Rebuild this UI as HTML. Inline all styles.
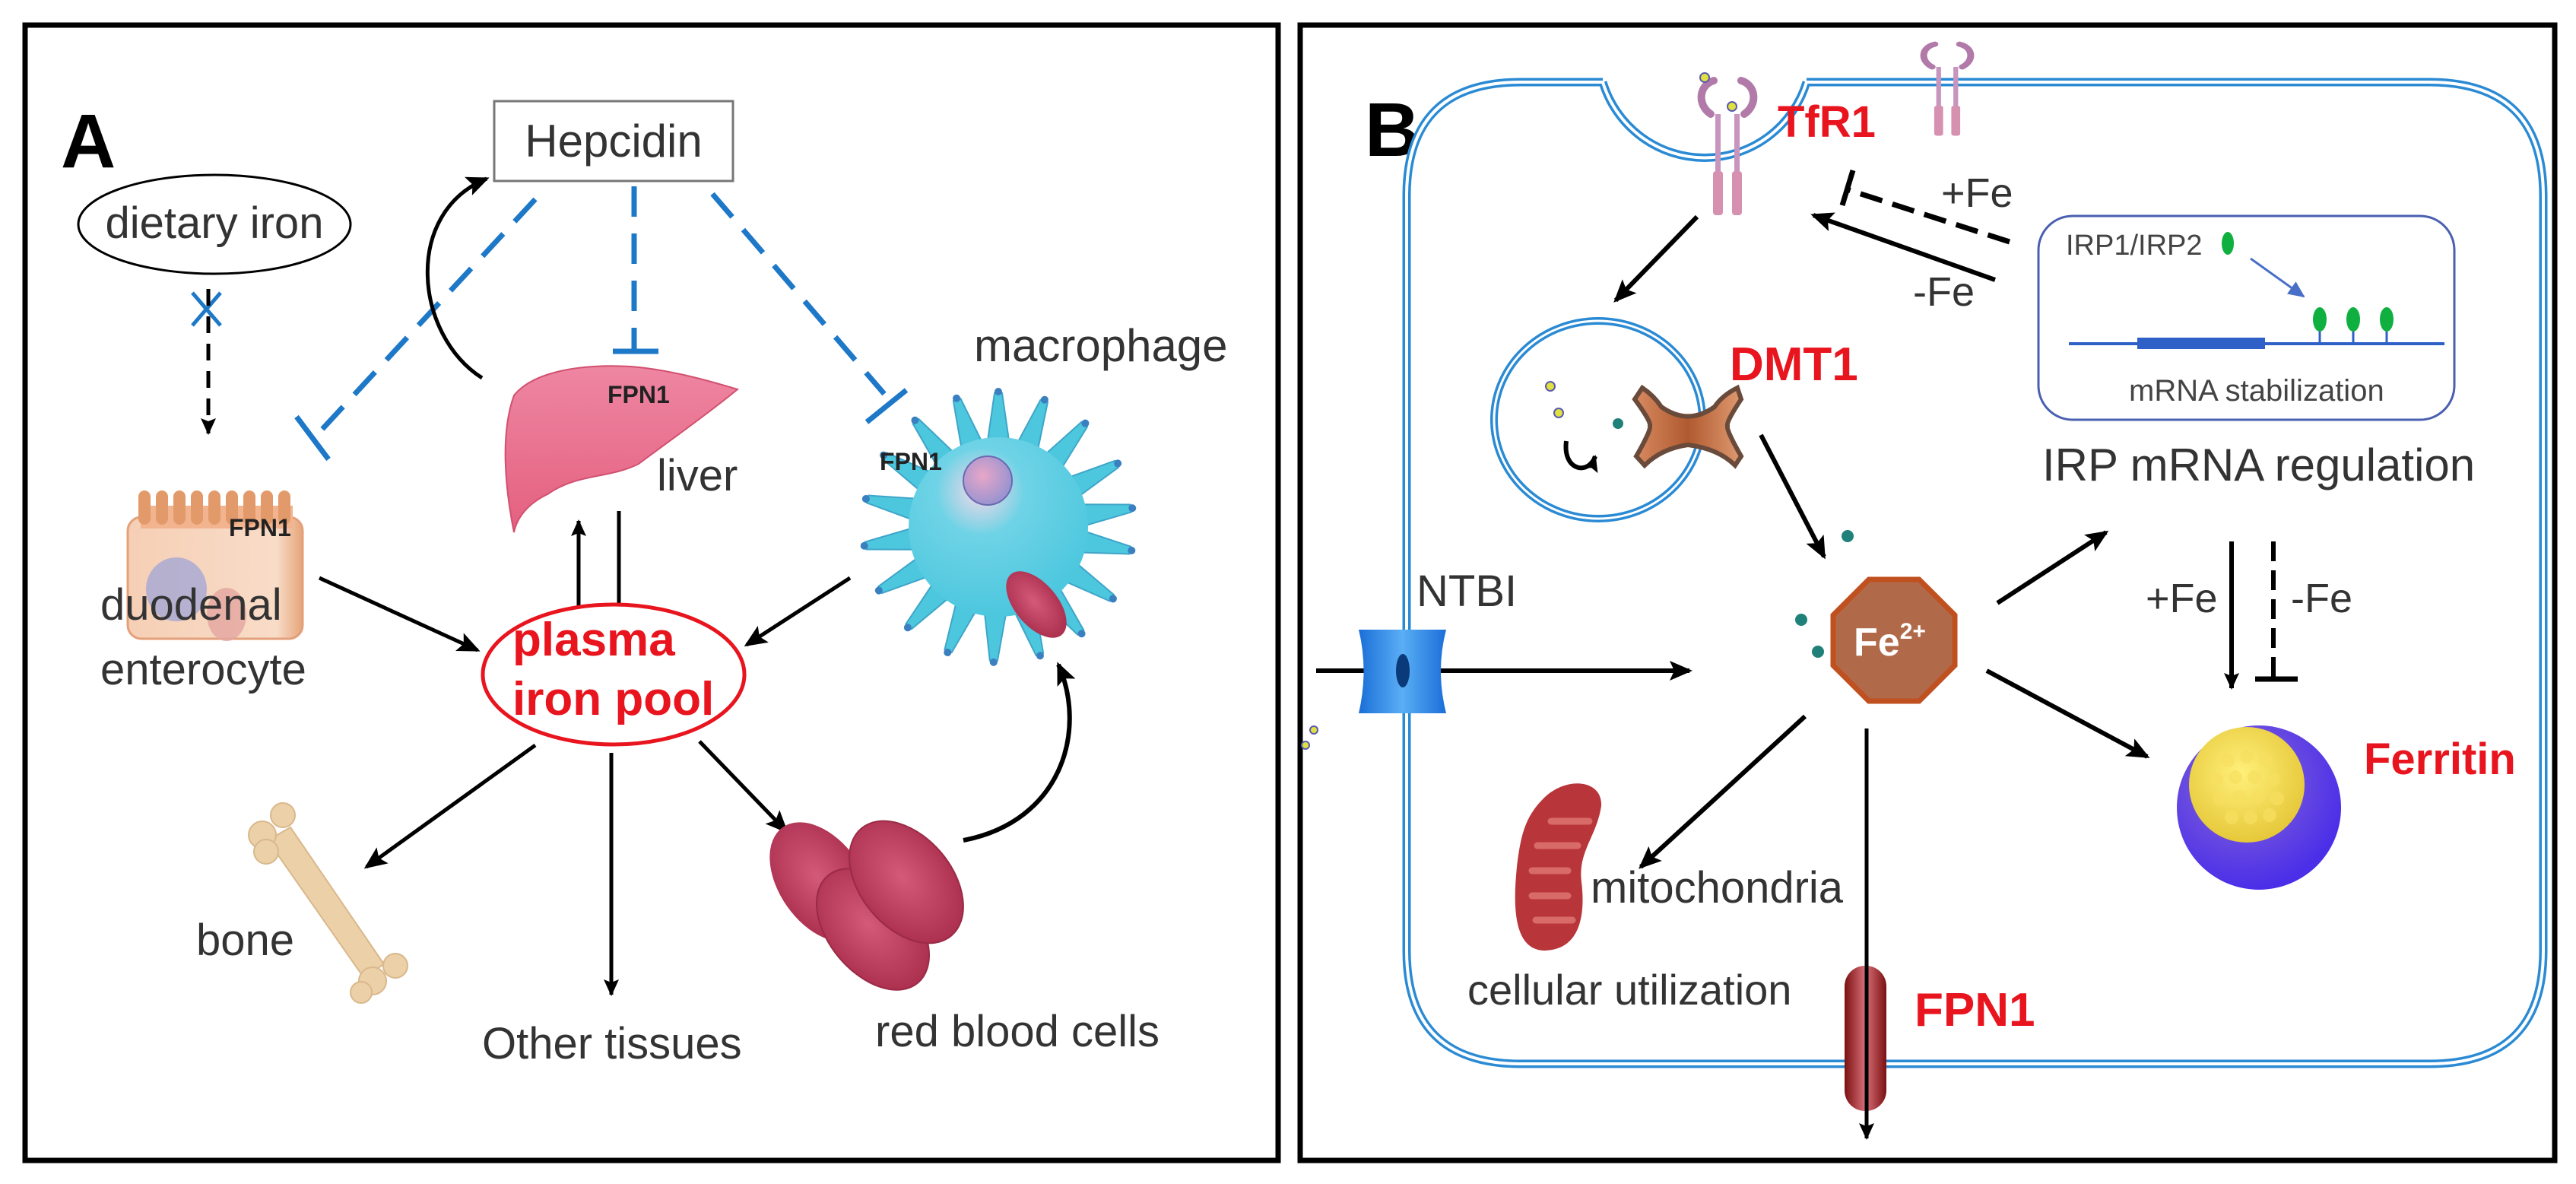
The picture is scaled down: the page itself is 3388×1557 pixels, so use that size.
<!DOCTYPE html>
<html><head><meta charset="utf-8"><style>
html,body{margin:0;padding:0;background:#fff;}
svg{display:block;}
text{font-family:"Liberation Sans",sans-serif;}
</style></head><body>
<svg width="3388" height="1557" viewBox="0 0 3388 1557" xmlns="http://www.w3.org/2000/svg">
<defs>
<marker id="ah" markerWidth="10" markerHeight="10" refX="8" refY="5" orient="auto" markerUnits="userSpaceOnUse" viewBox="0 0 10 10"><path d="M0,0 L10,5 L0,10 Z" fill="#000"/></marker>
<marker id="ahb" markerWidth="30" markerHeight="26" refX="26" refY="13" orient="auto" markerUnits="userSpaceOnUse"><path d="M0,0 L30,13 L0,26 L6,13 Z" fill="#000"/></marker>
<marker id="ahs" markerWidth="22" markerHeight="20" refX="20" refY="10" orient="auto" markerUnits="userSpaceOnUse"><path d="M0,0 L22,10 L0,20 L4,10 Z" fill="#000"/></marker>
<marker id="ahbl" markerWidth="22" markerHeight="20" refX="20" refY="10" orient="auto" markerUnits="userSpaceOnUse"><path d="M0,0 L22,10 L0,20 Z" fill="#4a6fc8"/></marker>
<radialGradient id="mac" cx="0.4" cy="0.3" r="0.7"><stop offset="0" stop-color="#f7d8e8"/><stop offset="0.35" stop-color="#6fd3e6"/><stop offset="1" stop-color="#4cc7de"/></radialGradient>
<radialGradient id="nuc" cx="0.4" cy="0.4" r="0.6"><stop offset="0" stop-color="#e8a6c8"/><stop offset="1" stop-color="#9a94d0"/></radialGradient>
<radialGradient id="rbc" cx="0.5" cy="0.45" r="0.6"><stop offset="0" stop-color="#d45a7a"/><stop offset="1" stop-color="#a92c4b"/></radialGradient>
<linearGradient id="ent" x1="0" y1="0" x2="1" y2="0"><stop offset="0" stop-color="#f6cfb5"/><stop offset="0.85" stop-color="#f8dcc8"/><stop offset="1" stop-color="#e6a57a"/></linearGradient>
<linearGradient id="liv" x1="0" y1="0" x2="0" y2="1"><stop offset="0" stop-color="#ee86a2"/><stop offset="1" stop-color="#e4607f"/></linearGradient>
<radialGradient id="fer" cx="0.4" cy="0.35" r="0.65"><stop offset="0" stop-color="#8a6ad8"/><stop offset="1" stop-color="#4a2ee8"/></radialGradient>
<radialGradient id="ferin" cx="0.45" cy="0.4" r="0.6"><stop offset="0" stop-color="#fff07a"/><stop offset="1" stop-color="#e6c83a"/></radialGradient>
<linearGradient id="fpn" x1="0" y1="0" x2="1" y2="0"><stop offset="0" stop-color="#7a1010"/><stop offset="0.5" stop-color="#d9707a"/><stop offset="1" stop-color="#7a1010"/></linearGradient>
<linearGradient id="ntbi" x1="0" y1="0" x2="1" y2="0"><stop offset="0" stop-color="#1a6fd8"/><stop offset="0.5" stop-color="#5aaef5"/><stop offset="1" stop-color="#1a6fd8"/></linearGradient>
<linearGradient id="dmt" x1="0" y1="0" x2="1" y2="0"><stop offset="0" stop-color="#d88a60"/><stop offset="0.5" stop-color="#b05a30"/><stop offset="1" stop-color="#e09a70"/></linearGradient>
<g id="spike"><path d="M-16,-100 L-5,-176 L5,-176 L16,-100 Z" fill="#4cc7de" stroke="#3fa5c8" stroke-width="2"/><circle cx="0" cy="-178" r="5" fill="#3a7fc0"/></g>
<g id="rec"><path d="M-22,0 C-40,-12 -38,-38 -18,-44" fill="none" stroke="#b27aa8" stroke-width="10" stroke-linecap="round"/><path d="M22,0 C40,-12 38,-38 18,-44" fill="none" stroke="#b27aa8" stroke-width="10" stroke-linecap="round"/><rect x="-16" y="0" width="7" height="75" fill="#c795bd"/><rect x="9" y="0" width="7" height="75" fill="#c795bd"/><rect x="-19" y="75" width="13" height="58" rx="4" fill="#d690b0"/><rect x="6" y="75" width="13" height="58" rx="4" fill="#d690b0"/></g>
</defs>

<!-- Panel borders -->
<rect x="33" y="33" width="1648" height="1493" fill="none" stroke="#000" stroke-width="7"/>
<rect x="1710" y="33" width="1650" height="1493" fill="none" stroke="#000" stroke-width="7"/>

<!-- ============ PANEL A ============ -->
<text x="80" y="220" font-size="100" font-weight="bold">A</text>

<rect x="650" y="133" width="314" height="105" fill="#fff" stroke="#777" stroke-width="3"/>
<text x="807" y="206" font-size="60" text-anchor="middle" fill="#333">Hepcidin</text>

<ellipse cx="282" cy="295" rx="179" ry="65" fill="#fff" stroke="#000" stroke-width="3"/>
<text x="282" y="313" font-size="58" text-anchor="middle" fill="#333">dietary iron</text>

<!-- blue X and dashed arrow -->
<line x1="253" y1="385" x2="290" y2="428" stroke="#1e78c8" stroke-width="5"/>
<line x1="290" y1="385" x2="253" y2="428" stroke="#1e78c8" stroke-width="5"/>
<line x1="274" y1="380" x2="274" y2="570" stroke="#000" stroke-width="5" stroke-dasharray="22,14" marker-end="url(#ahs)"/>

<!-- Hepcidin inhibition lines -->
<g stroke="#1e78c8" stroke-width="7" fill="none">
<line x1="704" y1="262" x2="414" y2="575" stroke-dasharray="40,22"/>
<line x1="390" y1="548" x2="432" y2="604"/>
<line x1="834" y1="245" x2="834" y2="462" stroke-dasharray="40,22"/>
<line x1="806" y1="462" x2="866" y2="462"/>
<line x1="937" y1="255" x2="1163" y2="518" stroke-dasharray="40,22"/>
<line x1="1140" y1="555" x2="1192" y2="513"/>
</g>

<!-- curved arrow liver -> hepcidin -->
<path d="M634,497 C545,440 530,280 640,235" fill="none" stroke="#000" stroke-width="5" marker-end="url(#ahb)"/>

<!-- enterocyte -->
<g>
<rect x="168" y="680" width="230" height="160" rx="18" fill="url(#ent)" stroke="#e3a07a" stroke-width="3"/>
<rect x="185" y="665" width="200" height="30" fill="#f1b48e"/>
<g fill="#e39a6a">
<rect x="182" y="645" width="16" height="45" rx="8"/><rect x="205" y="645" width="16" height="45" rx="8"/><rect x="228" y="645" width="16" height="45" rx="8"/><rect x="251" y="645" width="16" height="45" rx="8"/><rect x="274" y="645" width="16" height="45" rx="8"/><rect x="297" y="645" width="16" height="45" rx="8"/><rect x="320" y="645" width="16" height="45" rx="8"/><rect x="343" y="645" width="16" height="45" rx="8"/><rect x="366" y="645" width="16" height="45" rx="8"/>
</g>
<ellipse cx="232" cy="775" rx="40" ry="42" fill="#a5a8d4" opacity="0.8"/>
<ellipse cx="298" cy="808" rx="26" ry="35" fill="#e3a5a0" opacity="0.8"/>
</g>
<text x="301" y="705" font-size="32" font-weight="bold" fill="#222">FPN1</text>
<text x="132" y="815" font-size="58" fill="#333">duodenal</text>
<text x="132" y="900" font-size="58" fill="#333">enterocyte</text>

<!-- liver -->
<path d="M676,520 C700,490 760,478 830,482 C880,486 930,500 970,512 C930,545 880,580 840,610 C800,630 760,622 720,650 C695,662 680,680 676,700 C664,640 658,570 676,520 Z" fill="url(#liv)" stroke="#d2506f" stroke-width="2"/>
<text x="799" y="530" font-size="32" font-weight="bold" fill="#222">FPN1</text>
<text x="864" y="645" font-size="58" fill="#333">liver</text>

<!-- liver <-> pool -->
<line x1="761" y1="835" x2="761" y2="685" stroke="#000" stroke-width="5" marker-end="url(#ahs)"/>
<line x1="814" y1="672" x2="814" y2="832" stroke="#000" stroke-width="5" marker-end="url(#ahs)"/>

<!-- macrophage -->
<g>
<use href="#spike" transform="translate(1313,693) rotate(0)"/>
<use href="#spike" transform="translate(1313,693) rotate(20)"/>
<use href="#spike" transform="translate(1313,693) rotate(40)"/>
<use href="#spike" transform="translate(1313,693) rotate(62)"/>
<use href="#spike" transform="translate(1313,693) rotate(82)"/>
<use href="#spike" transform="translate(1313,693) rotate(100)"/>
<use href="#spike" transform="translate(1313,693) rotate(122)"/>
<use href="#spike" transform="translate(1313,693) rotate(142)"/>
<use href="#spike" transform="translate(1313,693) rotate(162)"/>
<use href="#spike" transform="translate(1313,693) rotate(182)"/>
<use href="#spike" transform="translate(1313,693) rotate(202)"/>
<use href="#spike" transform="translate(1313,693) rotate(222)"/>
<use href="#spike" transform="translate(1313,693) rotate(242)"/>
<use href="#spike" transform="translate(1313,693) rotate(262)"/>
<use href="#spike" transform="translate(1313,693) rotate(282)"/>
<use href="#spike" transform="translate(1313,693) rotate(302)"/>
<use href="#spike" transform="translate(1313,693) rotate(322)"/>
<use href="#spike" transform="translate(1313,693) rotate(342)"/>
<circle cx="1313" cy="693" r="118" fill="url(#mac)"/>
<circle cx="1299" cy="632" r="32" fill="url(#nuc)" stroke="#6a6ab0" stroke-width="2"/>
<ellipse cx="1363" cy="795" rx="28" ry="52" transform="rotate(-40 1363 795)" fill="url(#rbc)"/>
</g>
<text x="1157" y="618" font-size="32" font-weight="bold" fill="#222">FPN1</text>
<text x="1281" y="475" font-size="60" fill="#333">macrophage</text>

<!-- plasma iron pool -->
<ellipse cx="807" cy="887" rx="172" ry="92" fill="#fff" stroke="#e8141e" stroke-width="5"/>
<text x="674" y="862" font-size="62" font-weight="bold" fill="#e8141e">plasma</text>
<text x="674" y="940" font-size="62" font-weight="bold" fill="#e8141e">iron pool</text>

<line x1="420" y1="760" x2="628" y2="855" stroke="#000" stroke-width="5" marker-end="url(#ahb)"/>
<line x1="1118" y1="760" x2="982" y2="848" stroke="#000" stroke-width="5" marker-end="url(#ahb)"/>
<line x1="704" y1="980" x2="482" y2="1140" stroke="#000" stroke-width="5" marker-end="url(#ahb)"/>
<line x1="804" y1="990" x2="804" y2="1308" stroke="#000" stroke-width="5" marker-end="url(#ahs)"/>
<line x1="920" y1="975" x2="1034" y2="1093" stroke="#000" stroke-width="5" marker-end="url(#ahb)"/>

<!-- bone -->
<g fill="#ecd0a8" stroke="#d9b88c" stroke-width="2">
<path d="M352,1105 L382,1088 L505,1268 L478,1285 Z"/>
<circle cx="345" cy="1098" r="18"/><circle cx="372" cy="1072" r="16"/><circle cx="350" cy="1120" r="16"/>
<circle cx="490" cy="1290" r="18"/><circle cx="520" cy="1270" r="16"/><circle cx="475" cy="1305" r="14"/>
</g>
<text x="258" y="1256" font-size="58" fill="#333">bone</text>

<text x="634" y="1392" font-size="58" fill="#333">Other tissues</text>

<!-- red blood cells -->
<g>
<ellipse cx="1080" cy="1160" rx="55" ry="88" transform="rotate(-35 1080 1160)" fill="url(#rbc)"/>
<ellipse cx="1148" cy="1222" rx="58" ry="92" transform="rotate(-40 1148 1222)" fill="url(#rbc)" stroke="#9a2a45" stroke-width="2"/>
<ellipse cx="1192" cy="1160" rx="60" ry="92" transform="rotate(-40 1192 1160)" fill="url(#rbc)" stroke="#9a2a45" stroke-width="2"/>
</g>
<text x="1151" y="1376" font-size="58" fill="#333">red blood cells</text>

<path d="M1267,1105 C1397,1080 1430,960 1392,874" fill="none" stroke="#000" stroke-width="6" marker-end="url(#ahb)"/>

<!-- ============ PANEL B ============ -->
<text x="1795" y="205" font-size="100" font-weight="bold">B</text>

<!-- cell membrane -->
<g fill="none" stroke="#2a8ad4" stroke-width="11">
<path d="M2108,108 L2000,108 Q1850,108 1850,258 L1850,1250 Q1850,1399 2000,1399 L3195,1399 Q3345,1399 3345,1250 L3345,258 Q3345,108 3195,108 L2376,108"/>
<path d="M2108,108 A140,140 0 0 0 2376,108"/>
</g>
<g fill="none" stroke="#fff" stroke-width="4">
<path d="M2108,108 L2000,108 Q1850,108 1850,258 L1850,1250 Q1850,1399 2000,1399 L3195,1399 Q3345,1399 3345,1250 L3345,258 Q3345,108 3195,108 L2376,108"/>
<path d="M2108,108 A140,140 0 0 0 2376,108"/>
</g>

<!-- receptors -->
<use href="#rec" transform="translate(2272,150)"/>
<use href="#rec" transform="translate(2561,88) scale(0.9,0.68)"/>
<circle cx="2242" cy="102" r="6" fill="#e0e040" stroke="#5a5ab0" stroke-width="2"/>
<circle cx="2278" cy="140" r="6" fill="#e0e040" stroke="#5a5ab0" stroke-width="2"/>
<text x="2338" y="180" font-size="58" font-weight="bold" fill="#e8141e">TfR1</text>

<!-- +Fe / -Fe to TfR1 -->
<line x1="2643" y1="318" x2="2432" y2="250" stroke="#000" stroke-width="7" stroke-dasharray="30,14"/>
<line x1="2423" y1="270" x2="2437" y2="224" stroke="#000" stroke-width="7"/>
<line x1="2624" y1="368" x2="2385" y2="283" stroke="#000" stroke-width="6" marker-end="url(#ahb)"/>
<text x="2553" y="272" font-size="54" fill="#333">+Fe</text>
<text x="2516" y="402" font-size="54" fill="#333">-Fe</text>

<!-- IRP box -->
<rect x="2681" y="284" width="547" height="268" rx="45" fill="#fff" stroke="#4a5fb0" stroke-width="3"/>
<text x="2717" y="335" font-size="38" fill="#444">IRP1/IRP2</text>
<ellipse cx="2930" cy="320" rx="8" ry="15" fill="#10b040"/>
<line x1="2960" y1="340" x2="3030" y2="390" stroke="#4a6fc8" stroke-width="3" marker-end="url(#ahbl)"/>
<line x1="2721" y1="452" x2="3215" y2="452" stroke="#2f60c8" stroke-width="4"/>
<rect x="2811" y="444" width="168" height="15" fill="#2f60c8"/>
<g stroke="#2f60c8" stroke-width="3"><line x1="3051" y1="430" x2="3051" y2="452"/><line x1="3095" y1="430" x2="3095" y2="452"/><line x1="3139" y1="430" x2="3139" y2="452"/></g>
<g fill="#10b040"><ellipse cx="3051" cy="420" rx="9" ry="16"/><ellipse cx="3095" cy="420" rx="9" ry="16"/><ellipse cx="3139" cy="420" rx="9" ry="16"/></g>
<text x="2800" y="527" font-size="40" fill="#444">mRNA stabilization</text>
<text x="2686" y="632" font-size="60" fill="#333">IRP mRNA regulation</text>

<!-- TfR1 -> vesicle -->
<line x1="2232" y1="285" x2="2125" y2="395" stroke="#000" stroke-width="6" marker-end="url(#ahb)"/>

<!-- vesicle -->
<ellipse cx="2102" cy="552" rx="137" ry="130" fill="none" stroke="#2a8ad4" stroke-width="10"/>
<ellipse cx="2102" cy="552" rx="137" ry="130" fill="none" stroke="#fff" stroke-width="3"/>
<circle cx="2039" cy="508" r="6" fill="#e0e040" stroke="#5a5ab0" stroke-width="2"/>
<circle cx="2050" cy="543" r="6" fill="#e0e040" stroke="#5a5ab0" stroke-width="2"/>
<circle cx="2128" cy="557" r="7" fill="#20807a"/>
<path d="M2060,580 C2055,620 2090,625 2098,600" fill="none" stroke="#000" stroke-width="6" marker-end="url(#ahs)"/>
<!-- DMT1 -->
<path d="M2160,510 Q2175,520 2185,535 Q2220,560 2255,535 Q2265,520 2285,510 L2290,525 Q2270,555 2272,560 Q2270,565 2290,600 L2282,612 Q2260,590 2220,585 Q2185,590 2163,612 L2152,600 Q2172,565 2170,560 Q2172,555 2150,525 Z" fill="url(#dmt)" stroke="#6a4a3a" stroke-width="6"/>
<text x="2275" y="500" font-size="62" font-weight="bold" fill="#e8141e">DMT1</text>

<line x1="2316" y1="572" x2="2399" y2="732" stroke="#000" stroke-width="6" marker-end="url(#ahb)"/>

<!-- Fe dots -->
<circle cx="2430" cy="705" r="8" fill="#20807a"/>
<circle cx="2369" cy="815" r="8" fill="#20807a"/>
<circle cx="2391" cy="857" r="8" fill="#20807a"/>

<!-- Fe octagon -->
<polygon points="2458,762 2524,762 2571,809 2571,875 2524,922 2458,922 2411,875 2411,809" fill="#b06a4a" stroke="#c0501f" stroke-width="7"/>
<text x="2438" y="862" font-size="52" font-weight="bold" fill="#fff">Fe<tspan font-size="30" dy="-22">2+</tspan></text>

<!-- NTBI -->
<text x="1863" y="797" font-size="58" fill="#333">NTBI</text>
<line x1="1731" y1="882" x2="2222" y2="882" stroke="#000" stroke-width="6" marker-end="url(#ahb)"/>
<path d="M1787,828 L1902,828 Q1888,882 1902,938 L1787,938 Q1800,882 1787,828 Z" fill="url(#ntbi)"/>
<ellipse cx="1845" cy="882" rx="9" ry="22" fill="#0a3a7a"/>
<circle cx="1717" cy="980" r="5" fill="#e0e040" stroke="#5a5ab0" stroke-width="2"/>
<circle cx="1728" cy="960" r="5" fill="#e0e040" stroke="#5a5ab0" stroke-width="2"/>

<!-- arrows from Fe -->
<line x1="2627" y1="793" x2="2770" y2="700" stroke="#000" stroke-width="6" marker-end="url(#ahb)"/>
<line x1="2613" y1="882" x2="2824" y2="995" stroke="#000" stroke-width="6" marker-end="url(#ahb)"/>
<line x1="2374" y1="942" x2="2158" y2="1140" stroke="#000" stroke-width="6" marker-end="url(#ahb)"/>

<!-- IRP -> ferritin -->
<line x1="2935" y1="712" x2="2935" y2="905" stroke="#000" stroke-width="6" marker-end="url(#ahs)"/>
<line x1="2990" y1="712" x2="2990" y2="893" stroke="#000" stroke-width="6" stroke-dasharray="26,12"/>
<line x1="2966" y1="893" x2="3022" y2="893" stroke="#000" stroke-width="7"/>
<text x="2822" y="805" font-size="54" fill="#333">+Fe</text>
<text x="3013" y="805" font-size="54" fill="#333">-Fe</text>

<!-- Ferritin -->
<circle cx="2971" cy="1062" r="108" fill="url(#fer)"/>
<circle cx="2955" cy="1032" r="76" fill="url(#ferin)"/>
<g fill="#f8e060" opacity="0.7">
<circle cx="2930" cy="1000" r="9"/><circle cx="2955" cy="995" r="9"/><circle cx="2980" cy="1000" r="9"/>
<circle cx="2915" cy="1025" r="9"/><circle cx="2940" cy="1022" r="9"/><circle cx="2965" cy="1022" r="9"/><circle cx="2990" cy="1025" r="9"/>
<circle cx="2920" cy="1050" r="9"/><circle cx="2945" cy="1048" r="9"/><circle cx="2970" cy="1048" r="9"/><circle cx="2995" cy="1050" r="9"/>
<circle cx="2935" cy="1075" r="9"/><circle cx="2960" cy="1075" r="9"/><circle cx="2985" cy="1072" r="9"/>
</g>
<text x="3109" y="1018" font-size="58" font-weight="bold" fill="#e8141e">Ferritin</text>

<!-- mitochondria -->
<path d="M2030,1050 C2060,1020 2108,1025 2106,1060 C2100,1100 2075,1120 2080,1160 C2085,1200 2080,1250 2030,1250 C1990,1248 1990,1190 1995,1140 C2000,1100 2005,1075 2030,1050 Z" fill="#b8353a"/>
<g stroke="#d86a68" stroke-width="9" stroke-linecap="round">
<line x1="2040" y1="1080" x2="2090" y2="1080"/><line x1="2022" y1="1112" x2="2075" y2="1112"/><line x1="2015" y1="1145" x2="2062" y2="1145"/><line x1="2015" y1="1178" x2="2062" y2="1178"/><line x1="2020" y1="1210" x2="2068" y2="1210"/>
</g>
<text x="2092" y="1187" font-size="58" fill="#333">mitochondria</text>
<text x="1930" y="1321" font-size="56" fill="#333">cellular utilization</text>

<!-- FPN1 channel -->
<rect x="2426" y="1270" width="55" height="191" rx="27" fill="url(#fpn)"/>
<line x1="2455" y1="958" x2="2455" y2="1497" stroke="#000" stroke-width="5" marker-end="url(#ahs)"/>
<text x="2518" y="1349" font-size="62" font-weight="bold" fill="#e8141e">FPN1</text>
</svg>
</body></html>
